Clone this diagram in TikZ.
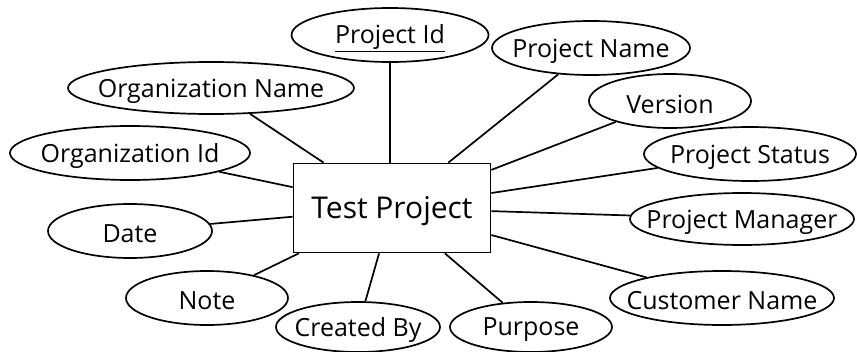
\documentclass[tikz,border=0pt]{standalone}
\usepackage{fontspec}
\setmainfont{Open Sans}
\usetikzlibrary{shapes.geometric}
\begin{document}
\begin{tikzpicture}[x=1pt,y=-1pt,
  attr/.style={draw, line width=1.7pt, ellipse, inner sep=0pt},
  lab/.style={inner sep=0pt, yshift=-3pt, font=\fontsize{25}{28}\selectfont},
  ent/.style={draw, line width=1.7pt, rectangle, inner sep=0pt, minimum width=197pt, minimum height=89pt},
  conn/.style={line width=1.7pt}]
\useasboundingbox (0,0) rectangle (857,351);
\node[ent, label={[lab, font=\fontsize{30}{34}\selectfont]center:Test Project}] (tp) at (392,208) {};
\node[attr, minimum width=197pt, minimum height=54pt, label={[lab]center:\underline{Project Id}}] (pid) at (390,35) {};
\node[attr, minimum width=286pt, minimum height=52pt, label={[lab]center:Organization Name}] (oname) at (211,88) {};
\node[attr, minimum width=240pt, minimum height=54pt, label={[lab]center:Organization Id}] (oid) at (130,153) {};
\node[attr, minimum width=198pt, minimum height=54pt, label={[lab]center:Project Name}] (pname) at (591,48) {};
\node[attr, minimum width=162pt, minimum height=54pt, label={[lab]center:Version}] (ver) at (670,101) {};
\node[attr, minimum width=212pt, minimum height=54pt, label={[lab]center:Project Status}] (pstat) at (750,154) {};
\node[attr, minimum width=224pt, minimum height=52pt, label={[lab]center:Project Manager}] (pman) at (742,219) {};
\node[attr, minimum width=224pt, minimum height=54pt, label={[lab]center:Customer Name}] (cust) at (722,298) {};
\node[attr, minimum width=162pt, minimum height=50pt, label={[lab]center:Purpose}] (purp) at (531,327) {};
\node[attr, minimum width=164pt, minimum height=50pt, label={[lab]center:Created By}] (cby) at (358,327) {};
\node[attr, minimum width=162pt, minimum height=54pt, label={[lab]center:Note}] (note) at (207,298) {};
\node[attr, minimum width=164pt, minimum height=54pt, label={[lab]center:Date}] (date) at (130,231) {};
\draw[conn] (pid.south) -- (pid.south |- tp.north);
\foreach \a in {oname,oid,pname,ver,pstat,pman,cust,purp,cby,note,date}
  \draw[conn] (\a) -- (tp);
\end{tikzpicture}
\end{document}
